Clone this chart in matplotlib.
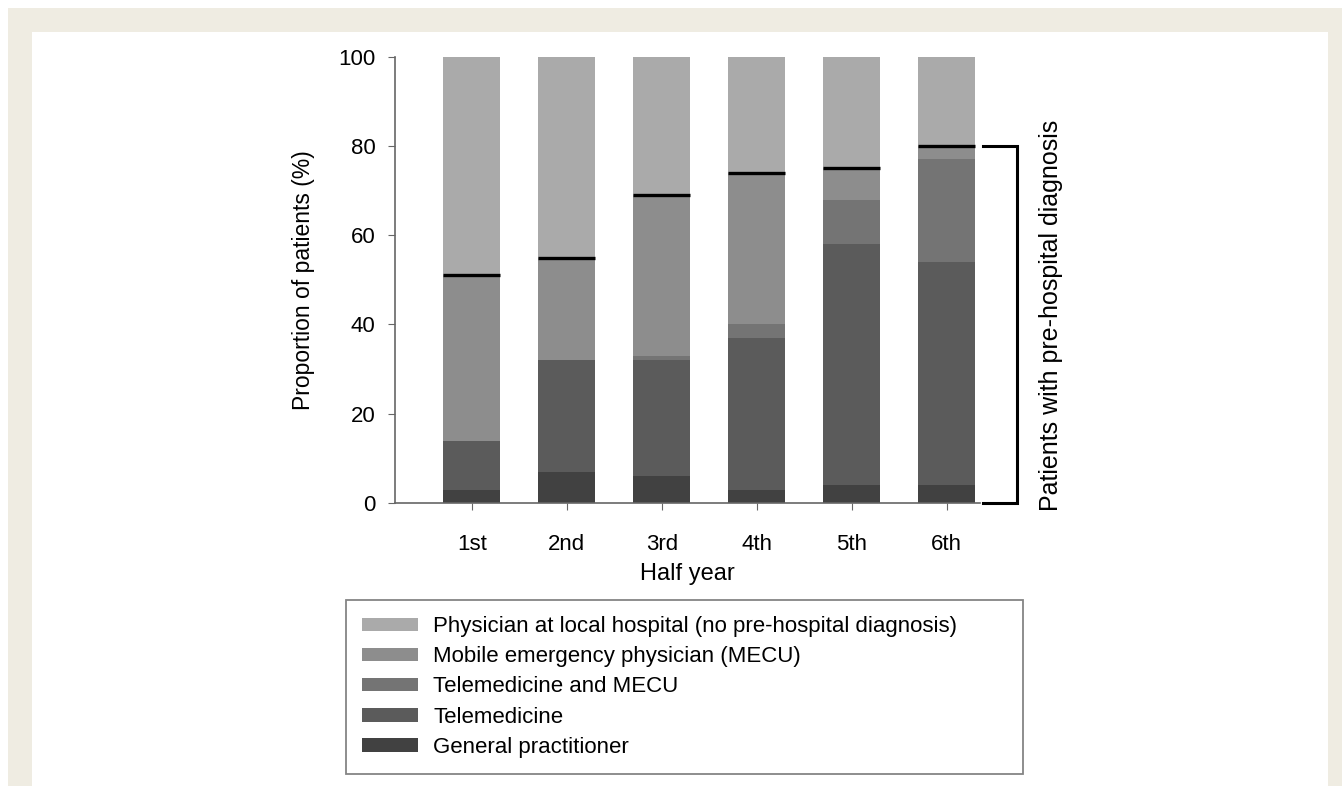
import matplotlib.pyplot as plt
import matplotlib.patches as mpatches
import numpy as np

plt.rcParams['font.family'] = ['Liberation Sans', 'DejaVu Sans']

halves = ['1st', '2nd', '3rd', '4th', '5th', '6th']
general_practitioner = [3, 7, 6, 3, 4, 4]
telemedicine = [11, 25, 26, 34, 54, 50]
tele_and_mecu = [0, 0, 1, 3, 10, 23]
mecu = [37, 23, 36, 34, 7, 3]
local_hospital = [49, 45, 31, 26, 25, 20]

labels = ['General practitioner', 'Telemedicine', 'Telemedicine and MECU',
          'Mobile emergency physician (MECU)',
          'Physician at local hospital (no pre-hospital diagnosis)']
colors = ['#414141', '#5b5b5b', '#747474', '#8d8d8d', '#aaaaaa']
series = [general_practitioner, telemedicine, tele_and_mecu, mecu, local_hospital]

W, H = 1342, 786
fig = plt.figure(figsize=(W / 100, H / 100), dpi=100)
fig.patch.set_facecolor('white')

# beige frame
beige = '#efece2'
fig.patches.append(mpatches.Rectangle((8 / W, 0), 1 - 8 / W, 1 - 8 / H, transform=fig.transFigure,
                                      facecolor=beige, edgecolor='none', zorder=-2))
fig.patches.append(mpatches.Rectangle((32 / W, 0), (1328 - 32) / W, 1 - 32 / H, transform=fig.transFigure,
                                      facecolor='white', edgecolor='none', zorder=-1))

ax = fig.add_axes([395 / W, 1 - 503 / H, (980 - 395) / W, (503 - 56.7) / H])
ax.set_facecolor('none')

x = np.arange(len(halves))
bottom = np.zeros(len(halves))
handles = []
for vals, col, lab in zip(series, colors, labels):
    b = ax.bar(x, vals, 0.6, bottom=bottom, color=col, edgecolor='none', label=lab)
    handles.append(b)
    bottom = bottom + np.array(vals)

# black line marking top of pre-hospital diagnosis
pre = np.array(general_practitioner) + np.array(telemedicine) + np.array(tele_and_mecu) + np.array(mecu)
ax.hlines(pre, x - 0.3, x + 0.3, colors='black', linewidth=2.4, zorder=3)

ax.set_xlim(-0.81, 5.35)
ax.set_ylim(0, 100)
ax.set_yticks([0, 20, 40, 60, 80, 100])
ax.set_xticks(x)
ax.set_xticklabels(halves)
for s in ['top', 'right']:
    ax.spines[s].set_visible(False)
for s in ['left', 'bottom']:
    ax.spines[s].set_color('#666666')
    ax.spines[s].set_linewidth(1.2)
ax.tick_params(axis='y', direction='out', length=5, color='#666666', labelsize=16, pad=9)
ax.tick_params(axis='x', direction='out', length=5, color='#666666', labelsize=16, pad=17)
ax.set_ylabel('Proportion of patients (%)', fontsize=16.5, labelpad=17)
ax.set_xlabel('Half year', fontsize=17, labelpad=6)

# bracket for pre-hospital diagnosis
ax.plot([5.38, 5.74, 5.74, 5.38], [pre[-1], pre[-1], 0, 0], color='black', linewidth=2.2,
        clip_on=False, solid_joinstyle='miter')
ax.text(6.1, pre[-1] / 2 + 2, 'Patients with pre-hospital diagnosis', rotation=90,
        ha='center', va='center', fontsize=18, clip_on=False)

leg = fig.legend(handles[::-1], labels[::-1], loc='upper left',
                 bbox_to_anchor=(346 / W, 1 - 600 / H - 0.01, (1023 - 346) / W, 0.01), mode='expand',
                 fontsize=16, frameon=True, fancybox=False, edgecolor='#666666',
                 handlelength=2.52, handleheight=0.57, handletextpad=0.68, labelspacing=0.41,
                 borderpad=0.73, borderaxespad=0)
leg.get_frame().set_linewidth(1.3)

fig.savefig('out.png', dpi=100)
